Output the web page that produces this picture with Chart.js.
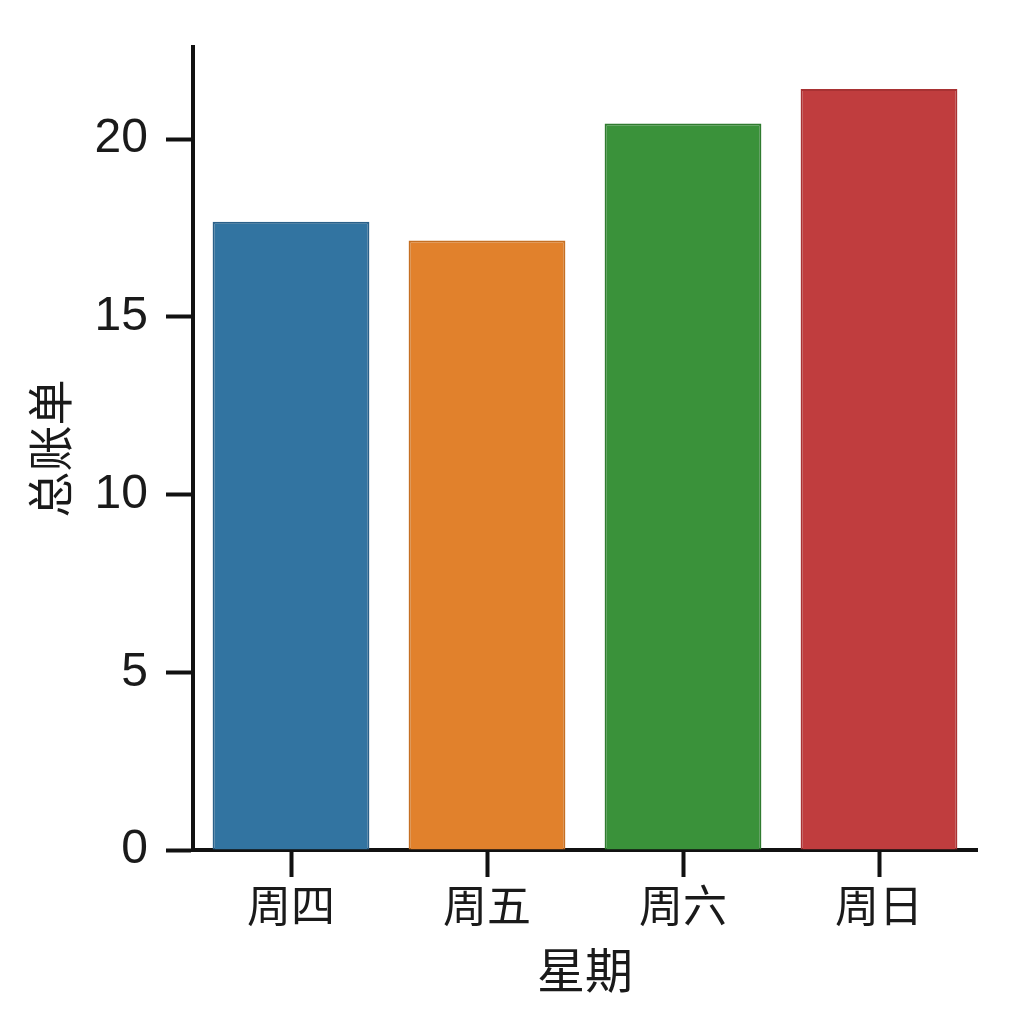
<!DOCTYPE html>
<html>
<head>
<meta charset="utf-8">
<script src="https://cdn.jsdelivr.net/npm/chart.js@4"></script>
<style>
  html, body { margin: 0; padding: 0; background: #fff; }
  #wrap { width: 1024px; height: 1024px; }
</style>
</head>
<body>
<div id="wrap"><canvas id="myChart" width="1024" height="1024"></canvas></div>
<script>
// data
const days = ["周四", "周五", "周六", "周日"];
const avgBill = [17.68, 17.15, 20.44, 21.41];
const yTicks = [0, 5, 10, 15, 20];
const fills = ["#3274a1", "#e1812c", "#3a923a", "#c03d3e"];
const edges = ["#2a6089", "#c56f23", "#2f7b2f", "#a83233"];

const numFont = "'Liberation Sans', sans-serif";
const cjkFont = "'Noto Sans CJK SC', sans-serif";

const config = {
  type: "bar",
  data: {
    labels: days,
    datasets: [{
      data: avgBill,
      backgroundColor: fills,
      borderColor: edges,
      borderWidth: 2,
      categoryPercentage: 1,
      barPercentage: 0.8,
    }],
  },
  options: {
    responsive: false,
    animation: false,
    layout: { padding: { left: 0, top: 45, right: 47, bottom: 0 } },
    plugins: { legend: { display: false }, tooltip: { enabled: false } },
    scales: {
      x: {
        grid: { offset: false, drawOnChartArea: false, drawTicks: true, tickLength: 27, tickWidth: 4, tickColor: "#111" },
        border: { display: true, color: "#111", width: 4 },
        ticks: { color: "#1a1a1a", font: { family: cjkFont, size: 44 }, padding: 2 },
        title: { display: true, text: "星期", color: "#1a1a1a", font: { family: cjkFont, size: 48 }, padding: { top: 0, bottom: 25 } },
        afterFit: (s) => { s.height = 174; },
      },
      y: {
        min: 0,
        max: 22.6,
        afterBuildTicks: (s) => { s.ticks = yTicks.map((v) => ({ value: v })); },
        grid: { drawOnChartArea: false, drawTicks: true, tickLength: 27, tickWidth: 4, tickColor: "#111" },
        border: { display: true, color: "#111", width: 4 },
        ticks: { color: "#1a1a1a", font: { family: numFont, size: 48 }, padding: 18 },
        title: { display: true, text: "总账单", color: "#1a1a1a", font: { family: cjkFont, size: 46 }, padding: { top: 22, bottom: 0 } },
        afterFit: (s) => { s.width = 193; },
      },
    },
  },
};

const ctx = document.getElementById("myChart");
const myChart = new Chart(ctx, config);
</script>
</body>
</html>
